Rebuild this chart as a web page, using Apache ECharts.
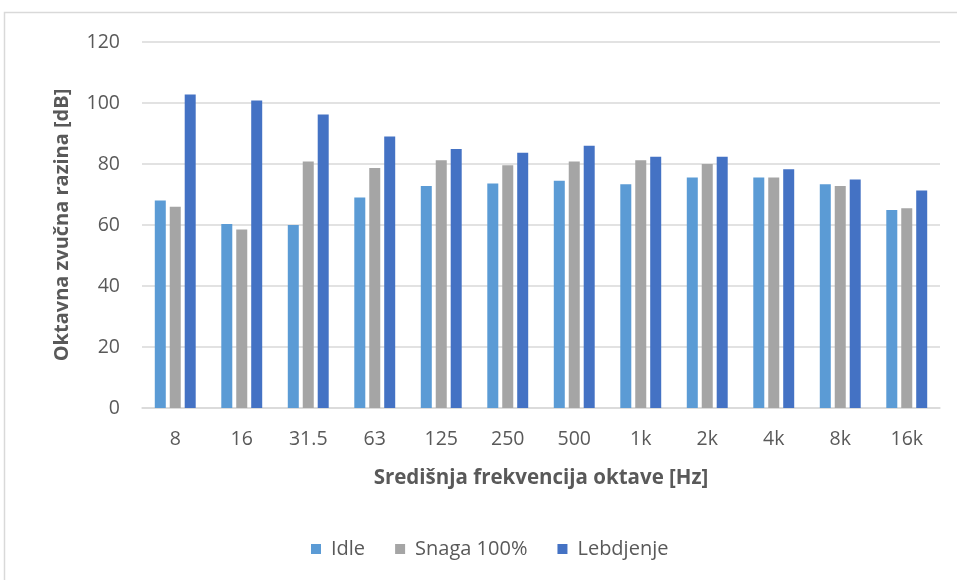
<!DOCTYPE html>
<html>
<head>
<meta charset="utf-8">
<script src="https://cdn.jsdelivr.net/npm/echarts@6/dist/echarts.min.js"></script>
<style>
html,body{margin:0;padding:0;background:#fff;}
#chart{width:957px;height:580px;}
</style>
</head>
<body>
<div id="chart"></div>
<script>
const categories = ['8','16','31.5','63','125','250','500','1k','2k','4k','8k','16k'];
const idle = [68, 60.3, 60, 69, 72.8, 73.6, 74.5, 73.4, 75.6, 75.6, 73.4, 64.9];
const snaga = [66, 58.5, 80.8, 78.7, 81.2, 79.6, 80.8, 81.2, 80, 75.6, 72.8, 65.5];
const lebdjenje = [102.8, 100.8, 96.2, 89, 84.9, 83.7, 86, 82.4, 82.4, 78.3, 74.9, 71.3];
const yTicks = {min: 0, max: 120, interval: 20};

const chart = echarts.init(document.getElementById('chart'), null, {renderer: 'canvas'});
const font = '"Open Sans", "Segoe UI", sans-serif';
const barBase = {type: 'bar', barWidth: 11, barGap: '36%', barCategoryGap: '38%'};
chart.setOption({
  animation: false,
  backgroundColor: '#fff',
  graphic: [{
    type: 'rect', shape: {x: 4.5, y: 12.5, width: 1000, height: 700},
    style: {fill: 'none', stroke: '#D9D9D9', lineWidth: 1.5}, silent: true
  }],
  grid: {left: 142, right: 17, top: 42, bottom: 172},
  legend: {
    top: 539, left: 311, padding: 0, itemWidth: 10, itemHeight: 10, itemGap: 30,
    icon: 'rect',
    textStyle: {color: '#595959', fontSize: 20, fontFamily: font, padding: [0, 0, 0, 5]},
    data: ['Idle', 'Snaga 100%', 'Lebdjenje']
  },
  xAxis: {
    type: 'category', data: categories,
    name: 'Središnja frekvencija oktave [Hz]', nameLocation: 'middle', nameGap: 60,
    nameTextStyle: {color: '#595959', fontSize: 20.5, fontWeight: 'bold', fontFamily: font},
    axisLine: {lineStyle: {color: '#D9D9D9', width: 1.5}},
    axisTick: {show: false},
    axisLabel: {color: '#595959', fontSize: 19.5, fontFamily: font, margin: 21}
  },
  yAxis: {
    type: 'value', min: yTicks.min, max: yTicks.max, interval: yTicks.interval,
    name: 'Oktavna zvučna razina [dB]', nameLocation: 'middle', nameGap: 70, nameRotate: 90,
    nameTextStyle: {color: '#595959', fontSize: 20, fontWeight: 'bold', fontFamily: font},
    axisLine: {show: false}, axisTick: {show: false},
    axisLabel: {color: '#595959', fontSize: 19.5, fontFamily: font, margin: 22},
    splitLine: {lineStyle: {color: '#D9D9D9', width: 1.5}}
  },
  series: [
    Object.assign({name: 'Idle', data: idle, itemStyle: {color: '#5B9BD5'}}, barBase),
    Object.assign({name: 'Snaga 100%', data: snaga, itemStyle: {color: '#A5A5A5'}}, barBase),
    Object.assign({name: 'Lebdjenje', data: lebdjenje, itemStyle: {color: '#4472C4'}}, barBase)
  ]
});
</script>
</body>
</html>
